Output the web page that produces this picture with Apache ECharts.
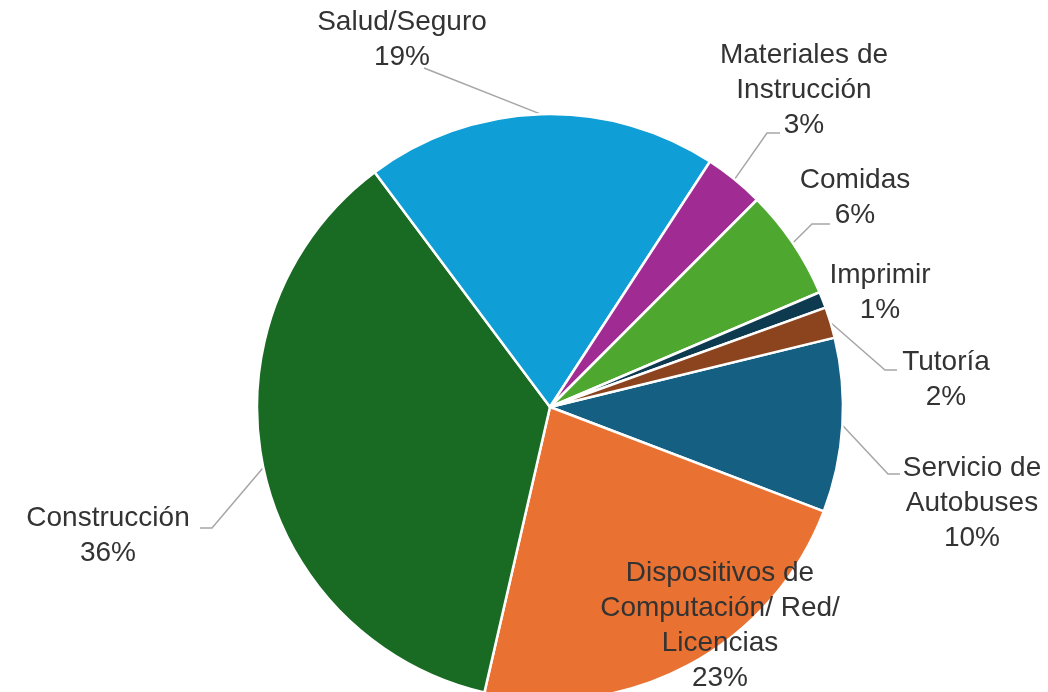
<!DOCTYPE html>
<html><head><meta charset="utf-8">
<script src="https://cdn.jsdelivr.net/npm/echarts@6/dist/echarts.min.js"></script>
<style>html,body{margin:0;padding:0;background:#fff;}#c{width:1048px;height:692px;}</style>
</head><body><div id="c"></div>
<script>
// Data (clockwise order, starting with "Servicio de Autobuses")
const categories = ['Servicio de\nAutobuses', 'Dispositivos de\nComputación/ Red/\nLicencias', 'Construcción', 'Salud/Seguro', 'Materiales de\nInstrucción', 'Comidas', 'Imprimir', 'Tutoría'];
const values = [9.6, 22.8, 36.2, 19.4, 3.3, 6.1, 0.9, 1.7];

// Styles / layout (kept apart from the data)
const colors = ['#156082', '#E97132', '#196B24', '#0F9ED5', '#A02B93', '#4EA72E', '#0D3A4E', '#8C441E'];
const labelCenters = [[972, 503], [720, 626], [108, 536], [402, 40], [804, 90], [855, 198], [880, 293], [946, 380]];
// leader line tip at the label: [x, y, horizontal elbow offset]; null = no leader line
const leaderTips = [[900, 474, -12], null, [200, 528, 12], [424, 68, 0], [780, 133, -13], [830, 224, -18], null, [897, 370, -12]];

const chart = echarts.init(document.getElementById('c'), null, {renderer: 'canvas'});
chart.setOption({
  animation: false,
  color: colors,
  series: [{
    type: 'pie',
    center: [550, 407],
    radius: 293,
    startAngle: 13.7,
    clockwise: true,
    percentPrecision: 0,
    avoidLabelOverlap: false,
    itemStyle: {borderColor: '#ffffff', borderWidth: 2.5},
    label: {
      show: true,
      position: 'outside',
      formatter: '{b}\n{d}%',
      fontFamily: '"Liberation Sans", Arial, sans-serif',
      fontSize: 28,
      lineHeight: 35,
      color: '#333333',
      align: 'center'
    },
    labelLine: {show: true, length: 15, length2: 12, lineStyle: {color: '#A6A6A6', width: 1.5}},
    labelLayout: function (p) {
      const c = labelCenters[p.dataIndex];
      const res = {x: c[0], y: c[1], align: 'center', verticalAlign: 'middle'};
      const tip = leaderTips[p.dataIndex];
      if (tip) {
        const lay = chart.getModel().getSeriesByIndex(0).getData().getItemLayout(p.dataIndex);
        const mid = (lay.startAngle + lay.endAngle) / 2;
        const sx = lay.cx + lay.r * Math.cos(mid);
        const sy = lay.cy + lay.r * Math.sin(mid);
        res.labelLinePoints = [[sx, sy], [tip[0] + tip[2], tip[1]], [tip[0], tip[1]]];
      }
      return res;
    },
    emphasis: {disabled: true},
    data: categories.map((n, i) => ({name: n, value: values[i], labelLine: {show: !!leaderTips[i]}}))
  }]
});
</script>
</body></html>
